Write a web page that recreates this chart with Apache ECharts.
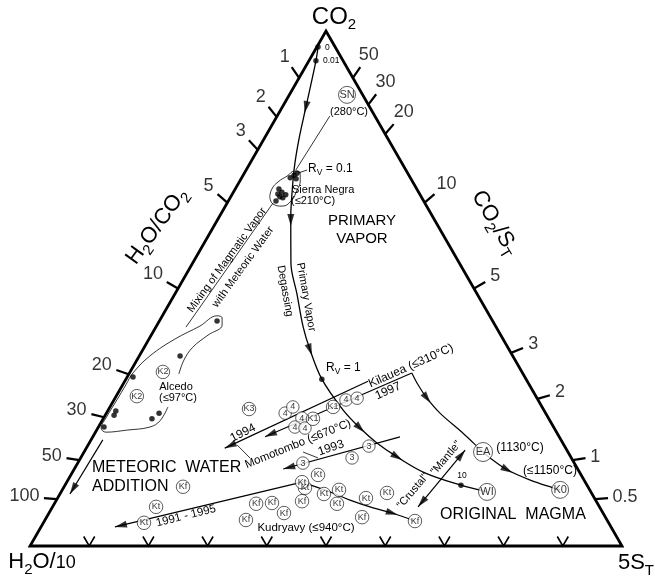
<!DOCTYPE html>
<html><head><meta charset="utf-8">
<script src="https://cdn.jsdelivr.net/npm/echarts@6.0.0/dist/echarts.min.js"></script>
<style>html,body{margin:0;padding:0;background:#fff}#c{width:655px;height:577px}</style>
</head><body><div id="c"></div>
<script>
// All compositions are ternary values given as [CO2 %, 5ST %]; H2O/10 % = 100 - CO2 - 5ST
const leftTickValues = [1, 2, 3, 5, 10, 20, 30, 50, 100];      // H2O/CO2
const rightTickValues = [50, 30, 20, 10, 5, 3, 2, 1, 0.5];     // CO2/ST
const baseMarks = [10, 20, 30, 40, 50, 60, 70, 80, 90];        // 5ST % along the base

const degassingCurve = [[96.9,0.2],[94.2,1.2],[85.2,4.0],[78.8,6.0],[73.0,8.1],[65.8,11.2],[63.3,12.4],[54.95,16.6],[48.9,20.65],[42.5,24.9],[38.1,28.25],[32.4,33.1],[26.4,39.7],[22.9,44.3],[20.0,48.6],[17.3,53.35],[14.2,59.6],[11.8,66.9],[10.5,71.95]];
const degassingArrowAt = [2, 6, 10, 13, 15];
const kilaueaCurve = [[33.6,47.7],[31.3,49.9],[28.7,52.7],[25.8,56.35],[21.9,62.2],[18.25,67.4],[17.1,69.15],[14.8,73.2],[12.8,78.1],[11.3,82.7],[10.9,84.1]];
const kilaueaArrowAt = [2, 7];
const kudryavyCurve = [[12.4,39.75],[10.3,46.0],[8.9,49.6],[7.4,54.25],[6.4,57.95],[4.85,62.6]];
const kudryavyArrowAt = [4];

const sierraNegraEnvelope = [[67.8,6.6],[69.3,6.2],[70.7,6.55],[71.8,7.5],[72.8,8.35],[72.45,9.4],[71.1,10.1],[68.7,10.6],[67.0,10.6],[66.0,9.6],[66.4,7.85],[67.8,6.6]];
const alcedoEnvelope = [[27.0,9.8],[24.3,9.8],[23.1,8.7],[22.5,5.1],[22.1,1.8],[22.9,0.55],[24.85,0.4],[28.35,0.5],[31.3,0.55],[33.6,0.6],[36.9,1.8],[40.2,4.4],[42.7,7.35],[44.7,9.25],[44.3,10.3],[42.9,11.0],[40.95,9.6],[38.6,8.2],[36.1,7.95],[33.4,8.45]];

// straight arrows: [start, tip]
const arrowLines = {
  meteoric: [[20.6,2.0],[10.1,1.7]],
  y1994: [[32.0,41.1],[19.0,23.4]],
  momotombo: [[33.6,47.7],[21.2,29.1]],
  y1993: [[21.2,51.9],[14.95,35.3]],
  y1991_1995: [[12.4,39.75],[3.7,12.5]]
};
const crustalMantle = [[7.6,61.75],[18.6,64.2]];
const plainLines = {
  mixing: [[66.6,7.75],[42.5,5.1]],
  snLeader: [[83.5,8.9],[73.0,8.4]],
  rv01Leader: [[73.0,10.3],[72.4,9.05]],
  leader1994: [[19.6,25.2],[17.1,28.6]],
  leader1993: [[18.25,37.0],[17.1,40.1]]
};

const curveDots = [[96.9,0.2],[94.2,1.2],[32.4,33.1],[11.8,66.9]];
const sierraNegraDots = [[72.0,8.6],[72.4,8.9],[71.5,8.2],[71.3,9.3],[69.3,7.4],[68.7,8.2],[68.35,7.7],[68.2,9.1],[67.6,8.9],[67.0,8.05],[67.8,8.3]];
const alcedoDots = [[43.7,9.75],[36.9,6.9],[32.8,1.0],[26.2,1.4],[25.4,1.5],[23.1,0.95],[24.7,8.25],[25.8,8.9]];

const sampleNames = ['SN','K2','K2','K3','4','4','4','4','4','4','4','K1','K1','3','3','3',
  'Kf','Kf','Kf','Kf','Kf','Kf','Kf','Kf',
  'Kt','Kt','Kt','Kt','Kt','Kt','Kt','Kt','Kt','Kt','EA','WI','K0'];
const sampleValues = [[87.6,9.75],[33.8,5.55],[29.1,3.5],[26.6,23.7],[25.8,30.2],[27.0,30.9],[24.85,33.5],[23.1,33.2],[22.9,35.0],[28.35,39.2],[28.7,40.9],[24.7,35.45],[27.0,37.7],[19.4,47.55],[17.1,45.85],[16.1,38.05],
  [11.5,20.1],[8.2,34.1],[8.35,36.7],[6.4,39.7],[5.05,33.95],[8.7,41.6],[5.6,53.3],[4.85,62.6],
  [7.6,17.5],[4.5,17.0],[11.3,40.8],[12.4,39.75],[13.8,41.75],[10.1,44.6],[10.9,46.75],[8.2,47.75],[9.3,52.1],[10.3,55.15],[18.25,67.4],[10.5,71.95],[10.9,84.1]];

// ---------------- drawing ----------------
const H = 515 / 592;          // triangle height in x units
const S = 1 / 592;            // one pixel in data units
const FONT = '"Liberation Sans", Arial, Helvetica, sans-serif';
function tp(p) { const a = p[0] / 100, c = p[1] / 100; return [c + a / 2, a * H]; }
function unit(v) { const l = Math.hypot(v[0], v[1]); return [v[0] / l, v[1] / l]; }

const vH = tp([0, 0]), vS = tp([0, 100]), vC = tp([100, 0]);

const tickLines = [], tickLabels = [];
function addTicks(values, edge, from) {
  values.forEach(v => {
    const P = tp(edge(v));
    const d = unit([P[0] - from[0], P[1] - from[1]]);
    const E = [P[0] + d[0] * 13 * S, P[1] + d[1] * 13 * S];
    const s = String(v);
    const w = s.replace('.', '').length * 10 + (s.includes('.') ? 5 : 0);
    const half = Math.abs(d[0]) * w / 2 + Math.abs(d[1]) * 6.5;
    const D = (13 + 4 + half) * S;
    tickLines.push({ coords: [P, E] });
    tickLabels.push({ name: s, value: [P[0] + d[0] * D, P[1] + d[1] * D] });
  });
}
addTicks(leftTickValues, r => [100 / (1 + r / 10), 0], vS);
addTicks(rightTickValues, c => [100 * c / (c + 5), 100 * 5 / (c + 5)], vH);

const vMarks = baseMarks.map(p => ({ coords: [[p / 100 - 5.5 * S, 9.5 * S], [p / 100, 0], [p / 100 + 5.5 * S, 9.5 * S]] }));

const heads = [];
function headAt(center, dirFrom, dirTo) {
  const u = unit([dirTo[0] - dirFrom[0], dirTo[1] - dirFrom[1]]);
  heads.push({ value: center, symbolRotate: Math.atan2(u[1], u[0]) * 180 / Math.PI - 90 });
}
function tipHead(startT, tipT) {
  const a = tp(startT), b = tp(tipT);
  const u = unit([b[0] - a[0], b[1] - a[1]]);
  headAt([b[0] - u[0] * 6 * S, b[1] - u[1] * 6 * S], a, b);
}
function curveHeads(curve, idx) {
  const pts = curve.map(tp);
  idx.forEach(i => headAt(pts[i], pts[i - 1], pts[i + 1]));
}
curveHeads(degassingCurve, degassingArrowAt);
curveHeads(kilaueaCurve, kilaueaArrowAt);
curveHeads(kudryavyCurve, kudryavyArrowAt);
Object.values(arrowLines).forEach(l => tipHead(l[0], l[1]));
tipHead(crustalMantle[0], crustalMantle[1]);
tipHead(crustalMantle[1], crustalMantle[0]);

const straight = [];
Object.values(arrowLines).forEach(l => straight.push({ coords: l.map(tp), lineStyle: { width: 1.2 } }));
straight.push({ coords: crustalMantle.map(tp), lineStyle: { width: 1.2 } });
Object.values(plainLines).forEach(l => straight.push({ coords: l.map(tp), lineStyle: { width: 0.8 } }));

function isBig(n) { return n === 'EA' || n === 'WI' || n === 'K0' || n === 'SN'; }
function sizeOf(n) { return n === 'EA' ? 19 : isBig(n) ? 17 : (n === '4' || n === '3') ? 12.5 : 13.5; }
const samples = sampleNames.map((n, i) => ({ name: n, value: tp(sampleValues[i]), symbolSize: sizeOf(n),
  label: { fontSize: isBig(n) ? 11 : 9 } }));

function curveSeries(data, width, smooth) {
  return { type: 'line', data: data.map(tp), showSymbol: false, symbol: 'none', smooth: smooth, clip: false, silent: true,
    lineStyle: { color: '#000', width: width }, z: 3 };
}

const subRich = (fs, pad) => ({ fontSize: fs, fontFamily: FONT, fill: '#000', padding: [pad, 0, 0, 0] });
function txt(text, x, y, size, rot, align, rich) {
  return { type: 'text', x: x, y: y, rotation: (rot || 0) * Math.PI / 180, z: 100, silent: true,
    style: { text: text, fontSize: size, fontFamily: FONT, fill: '#000', align: align || 'center', verticalAlign: 'middle',
      textAlign: align || 'center', textVerticalAlign: 'middle', rich: rich || {} } };
}
const bigRich = { s: subRich(15, 15), m: { fontSize: 18, fontFamily: FONT, fill: '#000', padding: [3, 0, 0, 0] } };
const rvRich = { v: subRich(8.5, 7) };
const texts = [
  txt('CO{s|2}', 334, 17, 24, 0, 'center', bigRich),
  txt('H{s|2}O/{m|10}', 42, 562, 22, 0, 'center', bigRich),
  txt('5S{s|T}', 636, 563, 22, 0, 'center', bigRich),
  txt('H{s|2}O/CO{s|2}', 157, 226, 22, 54, 'center', bigRich),
  txt('CO{s|2}/S{s|T}', 495, 223, 22, -59, 'center', bigRich),
  txt('PRIMARY', 362, 221, 15), txt('VAPOR', 362, 239, 15),
  txt('0', 325, 48, 8.5, 0, 'left'), txt('0.01', 323, 61, 8.5, 0, 'left'),
  txt('(280°C)', 349, 112, 11),
  txt('R{v|V} = 0.1', 308, 169, 12, 0, 'left', rvRich),
  txt('Sierra Negra', 292, 190, 11, 0, 'left'), txt('(≤210°C)', 291, 201, 11, 0, 'left'),
  txt('Mixing of Magmatic Vapor', 227, 260, 11, 54), txt('with Meteoric Water', 243, 267, 11, 54),
  txt('Primary Vapor', 306, 297, 11, -80), txt('Degassing', 285, 291, 11, -80),
  txt('R{v|V} = 1', 326, 368, 12, 0, 'left', rvRich),
  txt('Alcedo', 176, 387, 11), txt('(≤97°C)', 178, 398, 11),
  txt('Kilauea (≤310°C)', 411, 366, 12, 24), txt('1997', 388, 391, 12, 24),
  txt('1994', 243, 433, 12, 27),
  txt('Momotombo (≤670°C)', 298, 444, 11.5, 22),
  txt('1993', 331, 448, 12, 19),
  txt('METEORIC  WATER', 92, 468, 16, 0, 'left'), txt('ADDITION', 92, 487, 16, 0, 'left'),
  txt('1991 - 1995', 186, 516, 11.5, 14),
  txt('Kudryavy (≤940°C)', 306, 528, 11.5),
  txt('"Crustal"', 413, 491, 11, 50), txt('"Mantle"', 446, 458, 11, 50),
  txt('(1130°C)', 520, 448, 12), txt('(≤1150°C)', 550, 471, 12),
  txt('10', 462, 476, 8.5),
  txt('ORIGINAL  MAGMA', 440, 515, 16, 0, 'left')
];

const chart = echarts.init(document.getElementById('c'), null, { renderer: 'canvas', width: 655, height: 577 });
chart.setOption({
  animation: false,
  backgroundColor: '#fff',
  grid: { left: 30, right: 33, top: 31, bottom: 31 },
  xAxis: { type: 'value', min: 0, max: 1, show: false },
  yAxis: { type: 'value', min: 0, max: H, show: false },
  series: [
    { type: 'line', data: [vH, vS, vC, vH, vS], showSymbol: false, symbol: 'none', clip: false, silent: true,
      lineStyle: { color: '#000', width: 2.8, join: 'miter' }, z: 4 },
    { type: 'lines', coordinateSystem: 'cartesian2d', data: tickLines, clip: false, silent: true,
      lineStyle: { color: '#000', width: 2.2, opacity: 1 }, z: 4 },
    { type: 'lines', coordinateSystem: 'cartesian2d', polyline: true, data: vMarks, clip: false, silent: true,
      lineStyle: { color: '#000', width: 1.6, opacity: 1 }, z: 4 },
    curveSeries(degassingCurve, 1.3, 0.35),
    curveSeries(kilaueaCurve, 1.2, 0.35),
    curveSeries(kudryavyCurve, 1.2, 0.35),
    curveSeries(sierraNegraEnvelope, 0.8, 0.5),
    curveSeries(alcedoEnvelope, 0.8, 0.4),
    { type: 'lines', coordinateSystem: 'cartesian2d', data: straight, clip: false, silent: true,
      lineStyle: { color: '#000', width: 1.2, opacity: 1 }, z: 3 },
    { type: 'scatter', data: heads, symbol: 'path://M5,0L10,14L0,14Z', symbolSize: [7, 12], clip: false, silent: true,
      itemStyle: { color: '#000' }, z: 5 },
    { type: 'scatter', data: curveDots.concat(sierraNegraDots, alcedoDots).map(tp), symbol: 'circle', symbolSize: 5.5,
      clip: false, silent: true, itemStyle: { color: '#000' }, z: 5 },
    { type: 'scatter', data: samples, symbol: 'circle', clip: false, silent: true,
      itemStyle: { color: '#fff', borderColor: '#000', borderWidth: 0.8 },
      label: { show: true, position: 'inside', formatter: '{b}', color: '#000', fontFamily: FONT, fontSize: 9 }, z: 6 },
    { type: 'scatter', data: tickLabels, symbolSize: 1, clip: false, silent: true,
      itemStyle: { color: 'rgba(0,0,0,0)' },
      label: { show: true, position: 'inside', formatter: '{b}', color: '#000', fontFamily: FONT, fontSize: 18 }, z: 6 }
  ],
  graphic: { elements: texts }
});
</script></body></html>
